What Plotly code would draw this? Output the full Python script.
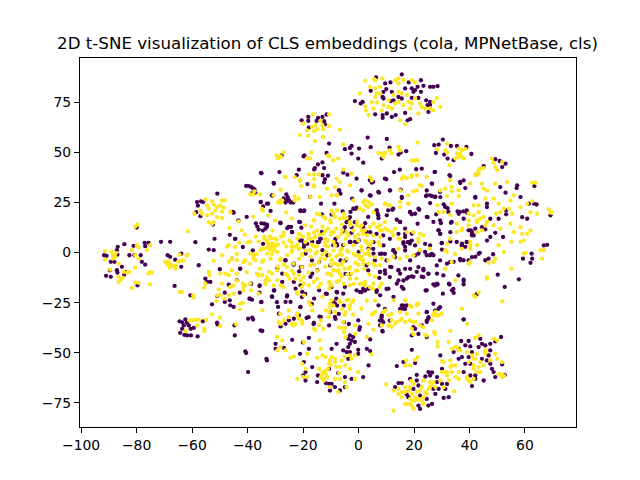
import plotly.graph_objects as go

title_text = "2D t-SNE visualization of CLS embeddings (cola, MPNetBase, cls)"
x_ticks = [-100, -80, -60, -40, -20, 0, 20, 40, 60]
y_ticks = [-75, -50, -25, 0, 25, 50, 75]
colour_dark = "#440154"
colour_light = "#fde725"

dark = [
(-20.5,66),(-18.1,67.7),(-18.1,65.7),(-14.6,67.2),(-13,67.7),(-11.5,68.9),(-12.4,65.6),(-17.9,62.4),(-15.1,65.7),(-12.1,64),
(-27.7,48.5),(-19.8,48),(-19.5,48.5),(-11.5,49.7),(-10.6,54.4),(-14.6,44),(-13,45),(-15.7,42.2),(-16,41.5),(-12.4,42.2),(-13,38.6),(-11,38.4),(-12.1,36.6),(-12.4,35),
(-21.5,41.4),(-22.3,38.6),(-28.5,40.2),(-35,39.6),(-30.5,34.4),(-18.4,34.2),(-40.5,33.3),(-39.5,33.2),(-38.7,32.8),(-38,32),(-37.5,31.5),(-37.2,30),(-38.5,29.5),
(-26,29),(-25.5,27.5),(-27,27),(-26,26),(-25,26),(-24.5,25),(-26.3,25),(-23.5,25),(-31,28.5),(-35.3,25.2),(-32.6,24.4),(-34.4,23),(-31.7,20.8),
(-50.9,29.4),(-58.2,25.2),(-56.8,25.6),(-56,25.2),(-57.9,23.4),(-58.5,20.2),(-57,18.2),(-45,19.9),(-52.5,14),
(-37,14.6),(-35,14.6),(-34,14.4),(-33,14),(-33,13),(-33.5,12),(-34.5,11),(-36,11.5),(-36.5,13),(-46.4,8.9),(-51.9,6.9),(-44.4,6.9),(-58.8,5.2),(-34.4,4.4),
(-25.7,12.2),(-24.3,12.8),(-23.9,10.2),(-21.1,15.2),(-20.6,12.4),(-20.9,20.7),(-19.7,20.7),(-28.1,14.7),(-13,10),(-13.6,6.9),(-14.6,5.2),(-21.1,6),(-19.7,5.2),(-18.5,4.4),(-9.7,19),
(-86.8,2.9),(-84.4,4.2),(-87.1,1.2),(-91.7,-1.3),(-90.8,-1.6),(-89.3,-4.6),(-88,-4.6),(-86.9,-1),(-91,-11.6),(-89.3,-12.1),(-89.6,-8.8),(-87.1,-8.8),(-86.9,-10),(-85.3,-7.1),(-84.1,-9.6),(-84.5,-11),(-79.7,-16.3),
(-81.1,3.4),(-80.8,-1.3),(-78.5,-1.3),(-76.9,3.2),(-77.1,4.9),(-75.7,4.9),(-78.1,-4.6),(-76.9,-6),(-82.6,-1.3),(-71.2,5.4),(-67.9,5.4),(-80,12.5),
(-68.8,-1.3),(-67.9,-2.1),(-66.1,-3.5),(-63.9,-7.1),(-63.9,-0.5),(-57.6,-6.3),
(-64.5,-34.3),(-62.4,-33.3),(-61.8,-35),(-63,-36.3),(-61.2,-36.3),(-63.6,-38),(-64.3,-40),(-61.8,-41.3),(-60.4,-41.3),(-59.4,-37.5),(-58,-41.8),(-56.1,-34.3),(-60.5,-38),(-62.8,-41),(-63.5,-34.8),
(-66.3,-16.6),(-60.6,-21.3),(-52.2,1.2),(-54,1.5),(-50,-8.3),(-55.2,-13),(-54.6,-14.6),(-53.4,-14.6),(-52.8,-25.8),(-51,-21.6),(-48.2,-20),(-42.8,-20),(-43.8,-13.8),(-46.8,-16),(-48.2,-24.6),(-46.4,-23.8),(-45,-27.1),(-46.2,-26.3),(-42.6,-8),(-38.7,-15.5),(-39.2,-23),(-38.4,-23.5),(-35,-24.6),(-35.6,-16.3),(-35.7,-20),(-45.6,-3),(-51,-35),(-50.8,-35.8),(-44.7,-36.3),(-44.6,-41.3),(-39.8,-33),(-38.3,-32.5),(-38,-33.4),(-35.3,-38.8),(-34.7,-39.1),(-40.8,-49.3),(-40.5,-50.1),(-33.2,-53),(-33,-53.8),(-39.8,-59.6),
(-26.3,-3.8),(-23.3,-5.5),(-29.3,-8),(-27.5,-10.5),(-23.3,-14.6),(-27.5,-14.6),(-31.1,-22.1),(-30.5,-18.8),(-25.7,-21.3),(-26.3,-24.6),(-24.5,-24.6),(-20.9,-27.1),(-29,-27.1),(-28.7,-30.5),(-26.3,-35.5),(-28.1,-36.8),(-25.1,-33.8),(-23.3,-33),(-21.5,-31.3),(-18.7,-32.6),(-16.1,-35.1),(-13.6,-32.1),(-10.6,-36.3),
(-29.9,-45.5),(-29.9,-48),(-26.9,-47.5),(-23.9,-43.5),(-20,-44.8),(-17.9,-42.5),(-17.9,-48),(-21.1,-50.5),(-19.7,-54.6),(-16.7,-57.1),(-19.1,-59.6),(-19.9,-61.3),(-19.1,-63.8),(-14.9,-64.6),(-11.8,-65.1),(-10.6,-65.5),(-10.6,-58),(-14.6,-61.3),
(-20.3,-7.1),(-17.3,-12.1),(-16.7,-10.5),(-14.2,-4.6),(-11.8,-20.5),(-16,-23),(-14.2,-18.8),(-19.7,2.9),(-19.1,-.5),(-16.7,5.4),(-14.2,5.4),(-11.2,-1.3),(-13,1.2),(-14.9,-8.8),(-20.9,-16.3),(-22.7,-18),(-20.3,-19.6),
(6.3,87.4),(9.6,84.4),(11.5,84.9),(15.6,88.9),(18.1,84.9),(22.5,86),(23.4,83.2),(25.8,82.7),(27,82.7),(28.5,83.1),(4.4,80.7),(9,80.2),(8.7,77.7),(12,80.2),(10,81.6),(16.8,81.9),(19.2,81.9),(20.4,81.1),(21.3,82.7),(19.8,80.2),(22.5,80.2),(14.4,77.7),(12.6,76),(11.6,75.6),(9,76.9),(-1.3,75.6),(.8,74.4),(1.5,75.2),(15.6,76.9),(19.2,77.2),(21.6,77.2),(24.4,76),(25.8,75.2),(24.9,73.6),(25.8,73.6),(25.2,70.2),(6,69),(8.7,68.6),(8.7,67.2),(10.2,69.4),(12,67.7),(13.4,68.6),(16.8,69.7),(17.7,66),(18.6,66.6),
(30.4,56.4),(27.3,53.6),(28.9,53.9),(33.3,53.2),(35.5,53.2),(38.9,52.7),(27.9,49.7),(30.9,48.9),(32.1,46.9),(40.7,49.2),(34.3,46.1),(49.3,46.6),(50.9,45.7),(53,44.4),(51.8,42.7),(45.1,43.2),(42.4,38.9),
(3.3,57.4),(10.2,56.7),(-2.5,53.2),(-3.1,52.2),(-4.9,51.6),(.2,51.9),(4.4,52.6),(11.2,52.4),(17.2,50.6),(15.2,49.9),(14.4,48.9),(-2.5,49.4),(8.4,46.9),(-.1,46.9),(1.7,44.9),(-5.5,39.9),(-4,38.9),(-.7,36.9),(4.8,34.9),(10,36.6),(12.8,40.2),(14.9,41.4),(20.8,41.6),(22.8,41.9),(27.4,40.2),(33.1,38.2),(37.9,36),(36.7,34.7),(38.5,32.2),(26.5,34.4),(11.4,31),(1.1,31),(-6.9,31),(15.2,31.4),(7.4,29.9),(4.4,28.4),(15.6,27.2),(24.6,31),(24.3,28.2),(26.5,28.2),(29.5,27.7),(27.7,27.9),(42.1,27.4),(57.2,33.6),(57,32.2),(51.1,32.7),(53,29.9),(63.4,33.2),(58.4,27.7),(61.4,24.4),(63.2,24.4),(64.2,24),(30.7,24.1),(25.8,24.7),(32.1,22.2),(35.7,20.6),(37.9,20.6),(39.1,19.9),(36.1,19.4),(37.9,16.9),(46.3,24.4),(46.3,22.7),(53.2,21.1),(53.2,19.1),(59,17.7),(60.8,16.9),(69.2,18.6),(18.6,20.2),(19.2,19.1),(21.9,21.4),(24.9,17.7),(28,19.1),(21.3,14.4),(33.3,14.9),(29.7,14.7),(15,15.3),(13.8,16.4),(6.6,21.1),(6.9,19.4),(7.2,17.2),(12.2,21.4),(10.2,18.6),(-1.9,21.9),(-.7,22.4),(-5.7,20.6),(-3.1,17.7),(-1.3,15.2),(2.4,14.7),(-4.3,15.2),(-4.9,12.7),(-2.5,12.7),(-2.5,9.9),(4.2,10.2),(40.5,11.1),(40.9,9.4),(41.5,8.6),(44.5,12.7),(45.7,11.6),(47.5,16.9),(50.5,16.9),(49.3,9.9),(52.1,7.8),(47.5,7.8),(46.3,6),(39.1,5.2),(37.3,3.6),(28.9,11.1),(29.5,9.4),(33.1,10.2),(16.2,5.2),(17.7,5.2),(19.2,6),(9,3.6),(5.4,5.2),(-.7,5.2),(-3.1,5.2),(-8.5,6),(-7.9,4.4),(66.8,3.6),(68,3.9),(30,4.7),(33.1,5.6),(16.8,9.4),
(-9.1,3.7),(-5.5,3.7),(-3.1,5.4),(-1.3,5.4),(3.6,2),(5.4,-.5),(8.4,-.5),(12.6,1.2),(13.2,-.1),(16.8,2.9),(18.5,4.5),(21.6,-.5),(24.6,-1.3),(25.8,-1.3),(27,-1.3),(31.9,-5.5),(34.3,-4.6),(36.7,-3.8),(37.9,-3.8),(30.1,1.5),(38.5,2.9),(37.3,4.5),(42.1,-2.1),(43.7,-.1),(45.7,-3.8),(46.9,-3),(48.5,-.8),(62,-5.1),(62.6,-3),(62.4,-.5),(59.3,-3),(57.8,-13.3),(52.7,-17.1),(50.2,-11),(37.9,-13.5),(37.9,-15.8),(32.6,-15.5),(33.7,-18.8),(34.3,-20.1),(30.4,-20.5),
(7.8,-9.6),(9.6,-10.5),(11.4,-7.1),(14.4,-8.8),(15,-10.5),(17.4,-13),(19.8,-12.1),(21,-9.6),(23.4,-8.8),(25.2,-10.5),(28.3,-10.5),(22.8,-12),(27,-15.8),(28.3,-15.5),(24.6,-18.8),(13.8,-15.5),(15.6,-17.1),(10.8,-18),(12.6,-22.1),(7.8,-21.3),(6.6,-18.8),(2.4,-18.8),(.5,-19.6),(-.7,-18.8),(1.7,-18),(3.6,-18),(-7.9,-19.6),(-5.5,-20.5),(-4.9,-17.1),(-9.7,-17.1),(-9.1,-24.6),(-8.5,-25.5),(-10.3,-29.6),
(7.2,-26.3),(15.6,-26.3),(16.2,-28),(17.4,-26.3),(8.4,-31.3),(8.4,-33.8),(7.8,-36.3),(8.6,-39.1),(27,-25.5),(24.6,-29.6),(28.9,-28),(25.2,-33),(24.6,-34.6),(22.8,-36.3),(20.4,-38),(19.2,-41.3),(24.6,-42.1),(37.9,-33.3),(-.1,-33.8),(-8.5,-32.1),(.3,-38.5),
(-3.1,-41.3),(-1.9,-42.1),(-3.7,-43),(-2.5,-43.8),(-1.3,-44.6),(-3.1,-45.5),(-3.7,-47.1),(-.1,-48.5),(4.2,-43.3),(3,-48),(4.2,-49.1),(-5.5,-48.8),(-4.3,-49.6),(-3.1,-49.6),(-7.9,-45.5),(-9.7,-48),(-.1,-50.5),(-3.7,-53),(1.7,-62.1),(-2.5,-63),(-4.9,-62.1),(-7.3,-60),(-9.7,-65.5),(-8.5,-67.1),(-10.3,-68.8),(-6.7,-68.8),(-4.9,-67.1),(3.6,-56.3),
(19.2,-48.5),(16.2,-54.6),(13.8,-56.6),(20.4,-55.1),(29.5,-51.3),(37,-44.1),(39.7,-44.1),(38.5,-46.3),(36.1,-48),(40.3,-46.8),(40.9,-49.6),(43.9,-43),(44.5,-45.5),(45.7,-46.3),(43.3,-47.1),(47.5,-48.8),(46.9,-51.3),(44.5,-53),(46.3,-53.8),(39.7,-52.1),(37.3,-52.1),(36.1,-53),(38.5,-55.5),(40.3,-55.5),(37.9,-59.6),(40.3,-61.3),(42.1,-61.3),(42.1,-63),(40.9,-66.6),(45.1,-63.8),(48.1,-58),(48.7,-59.6),(51.8,-55.8),(52.7,-61),(49.3,-62.1),(47.5,-55.5),(51.4,-42.1),(49.3,-44.3),(47.5,-45.5),(34.3,-49.6),
(14.4,-65.1),(15.6,-65.1),(13.2,-67.1),(21,-61),(18.6,-63),(19.8,-68),(21.6,-66.3),(25.2,-59.6),(25.8,-61.3),(28.3,-62.1),(24.1,-61.8),(26.5,-59.8),(30.1,-58),(30.1,-65.5),(31.9,-65.5),(28.3,-64.6),(27,-68),(31.3,-68),(28.9,-68),(17.4,-70.8),(18,-72.1),(22.2,-71.3),(21.6,-76.3),(22.2,-78),(25.2,-76.3),(26.5,-75.5),(27.7,-70.5),(30.7,-72.5),(32.5,-72.1),(24.6,-73),(21,-63.8),
]

dark_centre = [
(-35.2,25.3),(-33,24.4),(-31.2,28.6),(-30.6,34.8),(-35.2,39.8),(-40.3,17.8),(-43.3,16.1),(-45.3,20.3),(-44.5,6.9),(-41.7,2.8),(-42.7,-8.1),(-38.1,1.1),(-38.8,-15.6),(-35.7,-16.7),(-39.3,-23),(-35.1,-24.7),(-31.2,-21.9),(-30.4,-18.9),(-25.8,-21.9),(-29.4,-24.7),(-20.4,-22.2),(-19.2,-20.6),(-16.8,-25.6),(-21,-27.2),(-14.1,-31.9),(-18,-32.2),(-16.2,-35.6),(-10.2,-29.7),(-7.7,-26.4),(-7.1,-30.6),(-3.5,-35.6),(-5.3,-34.7),(-8.3,-33.1),(-23.4,-5.6),(-26.4,-3.9),(-23.4,-6.1),(-21.4,-9.4),(-20.8,-7.2),(-16.8,-3.9),(-13.2,10.3),(-14.4,5.3),(-13.8,7),(-20.4,6.1),(-19.6,4.4),(-24,10.3),(-25.2,12.8),(-28.2,14.9),(-21.4,15.3),(-21,21.1),(-19.6,21.1),(-17.4,27.8),(-13.5,24.4),(-8.7,24.4),(-13.2,19.1),(-7.1,31.1),(-6.5,29.4),(-2.3,26.9),(-1.1,21.9),(-2.9,20.3),(-3.5,16.1),(-5.3,10.8),(-8.3,6.9),(-7.7,3.6),(-2.9,5.3),(.1,6.1),(.1,.3),(-4.7,-3.9),(-2.9,-10.6),(-4.7,-10.6),(-10.2,-6.4),(-6.5,-3.9),(-11.4,-20.6),(-7.7,-19.9),(-8,-23),(-5.3,-26.4),
(6.5,21.1),(7.1,18.6),(3.5,17.8),(1.7,12.8),(2.9,10.3),(6.5,9.4),(8.9,8.6),(11.3,6.9),(14.4,9.4),(16.8,7.8),(19.2,9.4),(18,5.3),(16.2,4.4),(20.4,3.6),(22.2,1.1),(24,4.4),(25.8,3.6),(26.4,-.6),(24,.3),(20.4,-1.4),(18.6,-3.9),(16.8,1.1),(12.5,1.1),(13.2,-2.2),(9.5,-.6),(7.7,-.6),(5.3,1.9),(5.9,-3.9),(10.1,-3.9),(11.9,-7.2),(14.4,-8.9),(16.8,-8.1),(18.6,-8.1),(21.6,-7.2),(23.4,-8.1),(25.2,-10.6),(28.2,-6.4),(29.4,-3.9),(18,-12.2),(19.2,-11.9),(16.2,-13.9),(14.4,-13.9),(11.3,-12.2),(7.7,-9.7),(9.5,-8.9),(3.5,-8.9),(2.9,-6.4),(7.5,-12.6),(2.3,-18.9),(1.1,-19.7),(6.5,-19.7),(10.1,-18.1),(16.2,-18.1),(23.4,-12.2),(27.6,-16.4),(28.5,-15.9),(30.6,-11.4),(32.8,-15.9),(24.2,-18.9),(34.2,-18.1),(36,-11.4),(37.9,-14.2),(30,4.8),(35.4,5.3),(37.2,3.6),(39,5.3),(33,-4.7),(36.6,-3.1),(39.7,-3.9),(40.9,-2.2),(43.3,-.6),(42.1,11.9),(40.9,10.3),(39.7,11.1),(40.9,8.6),(36.6,20.3),(39,21.1),(28.8,11.1),(29.4,9.4),(24.6,17.8),(27,15.3),(33.6,15.3),(29.4,16.1),(18.6,20.3),(20.4,19.4),(21.6,21.9),(12.5,21.9),(10.7,21.1),(15,15.3),(16.8,11.9),(4.1,28.6),(7.1,30.3),(11.3,31.1),(15.6,27.8),(24.6,28.6),(25.8,28.6),(27.6,27.8),(29.4,30.3),(31.2,22.8),(32.4,20.3),(42.1,27.8),(32.8,38.6),(27.6,40.3),(36.6,35.3),(26.4,34.4),(9.5,36.9),(5.3,35.3),(1.1,31.1),(4.1,36.1),(16.2,-26.4),(16.8,-28.1),(9.5,-28.1),(8.3,-32.2),(7.7,-33.9),(8.9,-34.7),(11.3,-33.9),(15,-28.1),(24.6,-29.7),(24.6,-33.9),(25.2,-32.2),(29.4,-27.2),(27.6,-28.9),(21.6,-40.6),(19.8,-37.2),(8.7,-39.4),(37.9,-33.4),(42.1,-21.4),(42.7,-20.6),(.5,-37.2),
]

light = [
(-16.4,68.9),(-19.9,64.4),(-18.5,61),(-21.1,58.6),(-18.1,58.2),(-16.7,62.7),(-15.5,63.6),(-14.9,61.6),(-16,60.6),(-13,63.6),(-12.7,61.6),(-10.6,63.1),(-10.6,69),(-13.7,65.7),(-15.7,55.6),(-12.8,57.7),
(-29.5,48.5),(-29,47),(-28.5,47.5),(-27,50),(-28,48),(-18.5,47),(-17.5,47),(-17,50),(-11,48.5),(-10.5,48),
(-17.9,39),(-16,39),(-14.3,39),(-16,36.6),(-16,33),(-17.3,27.7),(-14,27.7),(-26.3,37.7),(-23,37.7),(-21.2,35.7),(-20.6,33.2),(-28.1,31.4),(-39,29),(-38,29),(-37.5,30.5),(-35.5,29),
(-29,25),(-28,25),(-27.5,26),(-23,28),(-23,26),(-34.5,21),(-32.5,18.5),
(-55.2,26.6),(-52.8,25.6),(-49.2,26),(-48.2,26),(-54.6,23.6),(-54,22),(-52.2,24),(-51,22.7),(-49.8,23.6),(-48.6,22.4),(-51.6,21),(-49.2,20.5),(-57,21),(-56.4,19.4),(-59.2,19.4),(-52.8,19.4),(-54.6,18.6),(-51,17.7),(-49.2,17.2),(-46.2,20.2),(-54,15.2),(-52.8,14.4),(-52.2,15.2),(-61.5,10.6),(-43.2,15.6),(-46.5,12.2),
(-38,18),(-41,9),(-43,5),(-40,5),(-37,8),(-36,5.5),(-34,7),(-32,8),(-33,5),(-31,4.5),(-30,7),(-32.5,3),(-35,2),(-31,2),(-29,4),(-27,5),(-28,8),(-26,3),(-24,5),(-22,7),(-23,3),(-21,9),(-18,9),(-17,13),(-16,16),(-14,19),(-12,17),(-13,13),(-15,11),(-11,12),(-10,9),(-17,7),(-12,5),(-16,3),(-21,2),(-26,20),(-30,16),(-24,17),(-27,10),(-31,11),
(-91.4,.7),(-91.4,-3.5),(-89,.4),(-88.4,-1.3),(-87.7,-2.1),(-88.6,-3),(-87.4,-.1),(-86.5,-5.5),(-89.5,-8.5),(-84.7,-9.6),(-83.5,-10),(-82.6,-9.6),(-86.5,-12.1),(-85.7,-13.5),(-86.5,-14.6),(-85,-12.5),(-81.7,-17.6),(-80.5,-15),(-79.3,-15),(-80.5,-7.5),(-79.9,3.7),(-79.3,2.5),(-80.5,-1.3),(-79.3,-3),(-81.7,1.2),(-75.1,-9.6),(-74.5,-10),(-75.7,-10.5),(-75.2,-15.8),(-76.3,1.2),(-75.1,3.7),(-80.5,13),(-79.8,14),
(-69.7,-4.5),(-68.5,-4.5),(-68,-5.5),(-67,-6.5),(-66,-6.5),(-65,-4.5),(-64,-4),(-63,-4),(-62,-1.5),(-61.5,-1),(-64.5,-1),(-66,-8),(-68,-7.5),(-69,-6),
(-58.8,-33.5),(-57.6,-33.5),(-58.2,-36.3),(-55.6,-38),(-55.6,-39.1),(-62.4,-39.1),(-54.9,-33.5),(-61,-33.8),(-59.8,-33.8),(-64.5,-19.6),(-63.7,-19.6),(-59.6,-21.3),(-59.4,-22.5),
(-52.2,-4.1),(-54,-9.6),(-55.2,-15.5),(-55.6,-17.5),(-53.7,-11.3),(-49.8,-10.5),(-48,-10.5),(-46.8,-11.3),(-49.2,-15.5),(-50.4,-18.3),(-51,-21.3),(-49.8,-21.3),(-46.2,-17.1),(-43.8,-14.1),(-41.7,-15.5),(-41.4,-17.1),(-45,-20.5),(-46.8,-21.3),(-51.2,-24.1),(-48.4,-23),(-41.7,-25.1),(-42.8,-28.3),(-52.8,-30.8),(-50,-32.5),(-49.8,-36.6),(-44.1,-35.8),(-34.7,-28.8),(-39,-15.5),(-38.7,-18.8),(-36,-20.5),(-49.2,-1.3),(-46.8,-4.6),(-47.4,2.9),(-46.8,3.7),(-45.6,-3),(-43.8,-3.8),(-41.4,-4.6),(-40.8,-3.8),(-39,-.5),(-37.8,-1.3),(-37.1,-3.8),(-35.3,1.2),(-34.1,2),(-36,-11.3),(-34.7,-11.3),(-32.3,-9.6),(-36.6,-10.5),(-33.5,-13.8),
(-32.3,4.5),(-31.1,3.7),(-30.5,1.2),(-29.3,.4),(-32.9,-.5),(-31.7,-3),(-34.7,-4.6),(-28.1,-3),(-25.7,-1.3),(-23.9,1.2),(-21.5,-3),(-20.3,-1.3),(-17.3,-2.1),(-15.5,-.5),(-13.7,-3),(-11.8,.4),(-31.1,-10.5),(-29.3,-13.8),(-32.3,-13.8),(-33.5,-15.5),(-28.1,-16.3),(-25.7,-11.3),(-23.3,-10.5),(-21.5,-11.3),(-20.9,-13.8),(-19.7,-15.5),(-17.9,-16.3),(-16.1,-14.6),(-13.6,-15.5),(-11.2,-10.5),(-10.6,-14.6),(-22.1,-20.5),(-19.7,-21.3),(-17.3,-26.3),(-16.7,-28.8),(-17.9,-24.6),(-11.8,-28.8),(-10.6,-29.6),(-13,-22.1),(-10.6,-18),(-25.1,-28.8),(-22.1,-30.5),(-21.5,-33),(-26.9,-33.8),(-28.1,-35.5),(-23.3,-36.3),(-22.7,-35.5),(-20.3,-35.5),(-16.1,-38),(-14.2,-36.3),(-13.6,-33.8),
(-29.3,-42.1),(-27.5,-43.8),(-28.1,-47.1),(-29.3,-48.8),(-26.3,-48.8),(-24.5,-52.5),(-23.3,-51.8),(-19.7,-44.6),(-18.5,-50.5),(-20.3,-55.5),(-13.6,-48),(-13,-51.3),(-14.9,-52.5),(-11.8,-52.1),(-10.6,-55.5),(-14,-43.8),(-13,-59.6),(-13.6,-62.1),(-11.8,-60.5),(-11.2,-62.1),(-12.4,-63.8),(-14.2,-58),(-18.5,-62.1),(-22.1,-63),
(6,86),(2.4,85.7),(5.6,86.6),(8.6,86.9),(4.2,82.7),(6,81.9),(7.8,82.7),(6.6,79.4),(7.8,79.4),(6,77.7),(4.8,75.2),(6.6,74.9),(2.4,73),(5.4,71.9),(8.4,71),(3.6,68.6),(2.7,71),(12,71.9),(10.8,72.7),(13.2,74.4),(14.4,75.2),(16.2,73.6),(18,75.2),(12.6,78.6),(14.4,80.2),(15.6,79.4),(17.4,78.6),(13.2,86),(14.4,86.9),(16.2,86),(19.2,86),(20.4,84.9),(14.4,84.4),(22.2,74.4),(22.8,72.7),(24,71.9),(21.6,69.4),(25.8,71.9),(27,75.2),(28.2,77.2),(29.5,72.7),(27,71),(15,66),(16.8,64),(.5,79.4),(9,73.5),(10.8,76),(18.6,71.9),(20.4,76.9),(19.2,74.4),
(31.9,54.4),(28.3,51.6),(31.3,51.1),(31.9,49.9),(36.1,51.9),(37.3,51.1),(38.5,51.6),(35.5,49.4),(36.7,49.4),(36.1,47.7),(37.3,47.7),(34.9,46.9),(21.3,54.9),(37.9,47),(32.8,43.6),
(48.1,46.9),(48.7,44.9),(49.3,42.7),(50,41.1),(43.3,41.1),(43.9,41.9),(45.1,42.2),(42.7,39.4),(51.8,45.2),
(-5.5,54),(11.3,51),(14.4,52.7),(15,51),(7.2,49.7),(8.4,49.4),(9.6,49.7),(12,49.4),(9,47.7),(19.2,46),(20.4,46),(21.3,46),(-7.3,46.9),(-9.1,46),(-6.7,61.4),(-5.5,41.4),(-2.5,39.4),(-3.1,33.6),(-6.7,35.2),(-7.9,36.9),(-8.5,32.7),(-9.7,28.6),(-7.9,28.6),(-1.9,26),(1.7,25.2),(3.6,25.2),(4.8,24),(2.4,23.6),(9.6,24.4),(10.8,23.6),(5.4,20.2),(4.2,37.7),(4.8,36),(15.6,36.9),(17.4,37.2),(19.2,37.7),(21,31),(19.8,30.6),(18,28.6),(18,24.4),(15,22.7),(22.8,33.2),(21,38.6),(29.5,31),(31.3,31.9),(31.9,28.2),(33.7,30.6),(36.1,28.2),(28.5,23.6),(28.9,20.2),(33.1,18.9),(35.5,14.4),(37.3,11.9),(39.7,13.6),(41.5,23.6),(43.3,23.6),(39.7,19.4),(41.5,18.6),(43.3,20.2),(45.1,17.7),(42.7,15.2),(45.7,13.6),(42.7,10.2),(44.5,11.1),(48.7,13.6),(51.1,11.9),(56,10.2),(54.8,14.4),(58.4,12.7),(62,11.1),(60.8,9.4),(59,9.4),(59.6,6),(62,20.2),(64.4,19.4),(68.6,21.6),(69.8,19.9),(69.2,20),(46.3,31),(44.5,34.4),(45.1,31.9),(49.3,34.4),(53.6,35.2),(45.7,26.9),(50.5,24.4),(54.8,26),(56,28.6),(48.7,26.9),(51.1,20.2),(54.2,21.9),(55.4,19.4),(58.4,22.7),(62.6,34.9),(63.8,34.9),(60.8,24.4),(62.6,25.6),(49.6,19.4),(52.4,21.9),
(-9.7,21),(-9.1,19.4),(-8.5,17.7),(-6.7,16.9),(-5.5,17.2),(-4.3,17.2),(-3.1,15.2),(-.7,13.6),(1.2,13.6),(1.2,11),(1.7,9.4),(3,8.6),(6.6,12.7),(7.8,13.6),(8.4,11),(9.6,11.9),(5.4,14.4),(-4.3,10.2),(-6.1,9.4),(-7.3,7.8),(-9.7,10.2),(-8.5,3.6),(-3.7,8.6),(-1.3,7.8),(-.1,6),(2.4,6),(4.2,3.6),(7.2,5.2),(7.8,7.8),(12,10.2),(12.6,8.6),(14.4,7),(22.2,9.4),(23.4,8.6),(21.6,7),(19.8,10.2),
(-10.3,-1.3),(-9.7,-3.8),(-8.5,-5.5),(-7.3,-6.3),(-5.5,-4.6),(-4.3,-3),(-3.7,.4),(-1.9,-.5),(-.1,-1.3),(1.2,-2.1),(3.6,1.2),(3.6,3.7),(4.8,5.4),(1.7,-3.8),(3.6,-5.5),(5.4,-5.5),(7.8,-6.3),(8.4,-3),(10.8,-3.8),(12.6,-2.1),(15,-3),(17.4,-2.1),(19.8,-1.3),(22.2,1.2),(25.8,2),(31.3,1.2),(31.9,4.5),(40.3,5.4),(-3.1,-7.1),(-2.5,-10.5),(-.7,-13),(1.2,-15.5),(2.4,-14.6),(5.4,-15.5),(8.4,-15.5),(-3.1,-16.3),(-4.3,-23.8),(-6.7,-10.5),(-9.1,-8.8),(-9.7,-11.3),(-7.9,-14.6),(-10.3,-15.5),
(10,-65.8),(12.6,-68.8),(14.4,-70.5),(15.6,-72.1),(16.8,-69.6),(17.4,-75.5),(18.6,-75.5),(19.8,-73.8),(20.4,-72.1),(21,-69.6),(22.2,-68.8),(23.4,-72.1),(22.8,-73.8),(24.6,-70.5),(18.6,-67.1),(16.8,-67.1),(19,-64),(23.4,-63.8),(25.8,-64.6),(25.8,-67.1),(12.6,-78.8),(34.5,-69.3),(32.5,-63.8),(29.5,-63.8),(27,-64.6),(19.8,-78),(19.2,-76.3),
(30.7,-54.6),(30.1,-59.6),(31.9,-61.3),(33.7,-59.6),(34.9,-62.1),(36.1,-63),(33.1,-57.1),(34.9,-56.3),(33.7,-48),(35.5,-47.1),(32.5,-44.6),(36.7,-48.8),(39.7,-54.6),(41.5,-56.3),(43.3,-57.1),(45.1,-56.3),(42.7,-59.6),(39.1,-63),(40.3,-64.6),(45.7,-50.5),(50,-53),(51.8,-54.6),(50.5,-60.5),(51.8,-62.1),(48.7,-43),(50,-43.8),(43.3,-41.3),(42.1,-42.6),(39.1,-49.6),(42.7,-50.5),(41.5,-53),(28.5,-44.6),(28.5,-46.8),(27.3,-39.6),(24,-41),(33.1,-39.1),(17.2,-53.8),(18.6,-56.3),(16.8,-56.3),(21.3,-52.1),(20.4,-53.5),(30.1,-54.1),(41.5,-21.3),(43.3,-20),(42.1,-22.1),(51.8,-24.3),(37.3,-28),(39.1,-35.5),(46.3,-13),(55.1,-8),(52.4,.4),(46.9,-5.1),(49.3,-3),(48.7,-4.6),(39.7,-5.5),(40.3,-4.6),(31.3,-8),(34.9,-13.8),(66.2,-3),(65.6,1.2),(66.8,1.2),(59.6,-.5),(60.2,-.1),(55.1,5.4),(58.4,5.4),(50.5,3.7),(42.7,3.7),(40.3,3.7),
(4.8,-30.8),(6,-29.6),(9.6,-28.8),(10.8,-31.3),(12,-33.8),(13.2,-35.5),(15,-33.8),(16.8,-34.6),(18.6,-33.8),(19.8,-34.6),(21.6,-30.5),(21,-26.3),(21.6,-25.5),(19.2,-27.1),(16.8,-23.8),(10.8,-36.3),(12,-37.1),(19.2,-38),(19.8,-40.5),(22.2,-36.3),(27,-31.3),(27.7,-29.6),(28.9,-31.3),(30,-30.5),(26.5,-33.8),(5.4,-38.5),(3.6,-35.5),(8.4,-36.3),(12.6,-23.8),
(-6.1,-37.5),(-4.9,-37.5),(-5.2,-39.6),(-1.3,-36.3),(-5.5,-34.6),(-3.1,-28),(-3.1,-26.3),(-9.1,-26.3),(-8.5,-29.6),(-10.3,-25.5),(-9.7,-23.8),(-3.7,-23.5),(-1.9,-23.8),(3,-42.1),(4.8,-50.8),(-3.1,-51.3),(-1.3,-51.3),(-2.5,-53),(-4.9,-56.3),(-6.7,-57.1),(-8.5,-53),(-9.7,-52.1),(-10.3,-53.8),(-8.5,-54.6),(-3.1,-58),(-1.3,-63),(-.1,-59.6),(-6.7,-63),(-4.9,-64.6),(-4.3,-67.1),(-8.5,-63),(-7.3,-69.6),(-10.3,-67.1),
(-6,-12),(-3,-13),(-8,-9),(-5,-8),(-1,-9),(0,-6),(2,-8),(4,-11),(6,-12),(-7,-1),(-6,2),(-11,3),(-12,7),(-8,12),(-6,14),(-10,15),(-7,-24),(-6,-28),(-5,-31),(-2,-31),(1,-28),(3,-24),(6,-24),
]

light_centre = [
(-15,19.4),(-12.6,17.8),(-10.2,16.1),(-7.7,21.1),(-5.3,19.4),(-16.2,16.1),(-19.2,13.6),(-21.6,9.4),(-18,9.4),(-15.6,7.8),(-12.6,9.4),(-9,10.3),(-5.9,11.1),(-2.9,13.6),(-.5,15.3),(-19.2,5.3),(-21.6,1.9),(-24,.3),(-20.4,-.6),(-17.4,1.1),(-15,.3),(-12,3.6),(-9,5.3),(-4.7,6.9),(-1.7,3.6),(-12,-3.1),(-9.6,-3.9),(-6.5,1.1),(-4.1,1.1),(-1.1,-1.4),(-14.4,-4.7),(-17.4,-6.4),(-20.4,-7.2),(-23.4,-5.6),(-25.8,-7.2),(-28.2,-3.9),(-31.8,7.8),(-30.6,4.4),(-33,5.3),(-34.3,1.9),(-31.2,-.6),(-36.7,-.6),(-37.9,-3.1),(-39.1,-5.6),(-41.5,-4.7),(-34.3,-3.9),(-43.9,-.6),(-45.7,-8.9),(-43.9,-10.6),(-40.3,-9.7),(-35.5,-8.1),(-33,-12.2),(-29.4,-8.9),(-26.4,-10.6),(-22.8,-13.1),(-19.8,-12.2),(-15,-13.1),(-10.2,-10.6),(-7.1,-8.9),(-3.5,-8.1),(-.5,-8.9),(-1.7,-15.6),(-5.3,-15.6),(-9.6,-16.4),(-14.4,-17.2),(-20.4,-17.2),(-22.2,-19.7),(-27,-17.2),(-30.6,-16.4),(-33.6,-15.6),(-40.9,-16.4),(-45.1,-16.4),(-41.5,-18.9),(-2.3,-24.7),(-6.5,-24.7),(-10.2,-27.2),(-4.7,-29.7),(-10.8,-32.2),(-7.1,-37.2),(-12.6,-38),(-15.6,-38.6),(-28.2,-30.6),(-25.2,-32.2),(-22.2,-31.4),(-28.8,-34.7),(-24,-35.6),(-20.4,-33.9),(-29.4,-42.2),(-4.7,-42.2),(-1.1,-40.6),(-26.4,37.8),(-21,36.1),(-16.2,33.6),(-11.4,31.9),(-7.7,28.6),(-21.6,26.9),(-28.2,26.1),(-30.6,28.6),(-34.9,21.9),(-42.1,11.1),(-39.1,5.3),(-44.5,2.8),(-45.7,-3.1),(-42.7,-25.6),
(7.7,11.1),(1.7,21.1),(3.5,22.8),(.5,12.8),(2.3,11.1),(4.1,12.8),(7.7,13.6),(9.5,15.3),(5.3,8.6),(2.9,5.3),(1.1,1.1),(2.3,-.6),(4.1,-1.4),(5.9,-2.2),(.5,-3.1),(1.7,-5.6),(3.5,-.6),(5.9,-6.4),(7.7,3.6),(10.7,11.1),(13.2,11.9),(15,6.9),(17.4,10.3),(21.6,5.3),(14.4,1.9),(.5,-15.6),(2.3,-16.4),(4.1,-17.2),(5.3,-18.1),(7.7,-17.2),(5.3,-30.6),(8.9,-29.7),(11.9,-30.6),(15,-29.7),(15.6,-33.1),(18.6,-33.9),(20.4,-34.7),(13.7,-34.7),(11.3,-36.4),(17.4,-30.6),(21,-25.6),(18.6,-26.4),(27,-30.6),(28.2,-31.4),(23.4,-37.2),(24.6,-41.4),(27.6,-40.6),(19.8,-40.6),(16.8,-23.9),(33,6.9),(35.4,10.3),(37.2,11.1),(39.7,16.1),(42.7,16.1),(43.9,16.9),(46.3,15.3),(33,36.1),(33.6,32.8),(40.3,34.4),(43.3,39.4),(42.1,38.6),(15,31.1),(16.2,37.8),(19.2,38.6),(24.6,37.8),(22.2,33.6),(18,24.4),(15,25.3),(9.5,24.4),(11.3,23.6),(2.3,26.1),(.5,21.9),(46.3,-12.2),(31.8,.3),(34.8,-.6),(37.2,1.9),(40.3,1.9),(31.2,-8.1),(33.6,-4.7),(36,31.1),(33.6,24.4),(30.6,20.3),
]

light_clusters = [
(14.4,-68),(15.6,-69.6),(18,-68.8),(19.2,-70.5),(20.4,-73.8),(16.8,-75.5),(21.6,-73),(24,-69.6),(25.2,-68),(26.4,-65.5),(22.8,-67.1),(19.8,-65.5),(27.7,-67.1),(30.7,-67.1),(23.4,-75.5),(18.6,-73),
(34.9,-47.1),(36.1,-48.8),(41,-51.3),(42.1,-53),(43.9,-54.6),(41.5,-58),(43.9,-59.6),(41.5,-63),(39.7,-63.8),(39.1,-62.1),(36.1,-59.6),(31.9,-59.6),(30.7,-59.6),(33.7,-56.3),(33.1,-53.8),(49.3,-50.5),(51.1,-60.5),(52.4,-61.3),(47.5,-53.8),(45.7,-48.8),
(-13,-60.5),(-12,-59),(-13.5,-62.5),(-12.5,-63),(-11,-58),(-20,-62),(-19,-58),(-8,-57),(-6,-54),(-5,-52),(-10,-56),(-7,-60),
(-34,8),(-33,6),(-32,3.5),(-30,3),(-33,2.5),(-31.5,7),(-30.5,2.5),(-32,1.5),(-29.5,6.5),
(-27,8.5),(-25,6),(-24,3),(-22,4),(-20,8),(-18,7),(-16,10),(-14,9),(-12,11),(-11,6),(-15,3),(-17,4),(-19,1),(-13,-1),(-9,1),(-8,-2),(-10,-6),(-12,-7),(-15,-9),(-18,-10),(-16,-6),(-25,-13),(-27,-6),(-29,-7),(-24,-9),(-6,-6),(-4,-11),(-7,-14),(-1,-5),(1,3),(0,9),(-2,11),(-5,4),(-6,-1),
]

layers = [
    (dark, colour_dark), (dark_centre, colour_dark),
    (light, colour_light), (light_centre, colour_light), (light_clusters, colour_light),
]

fig = go.Figure()
for points, colour in layers:
    fig.add_trace(go.Scatter(
        x=[p[0] for p in points], y=[p[1] for p in points], mode="markers",
        marker=dict(size=4.3, color=colour, line=dict(width=0)), hoverinfo="skip",
    ))

axis_style = dict(
    showgrid=False, zeroline=False, showline=True, mirror=True,
    linecolor="black", linewidth=1.1, ticks="outside", ticklen=5, tickwidth=1.1,
    tickcolor="black", tickfont=dict(family="DejaVu Sans", size=13.9, color="black"),
)
fig.update_layout(
    width=632, height=472, showlegend=False,
    paper_bgcolor="white", plot_bgcolor="white",
    margin=dict(l=72, r=64, t=50, b=53, autoexpand=False),
    title=dict(text=title_text, x=319.5/632, xanchor="center", y=1-35/472, yanchor="middle",
               font=dict(family="DejaVu Sans", size=16.67, color="black")),
    xaxis=dict(range=[-100.4, 78.4], tickvals=x_ticks, ticktext=[str(v).replace("-", "\u2212") for v in x_ticks], **axis_style),
    yaxis=dict(range=[-87, 97.1], tickvals=y_ticks, ticktext=[str(v).replace("-", "\u2212") for v in y_ticks], **axis_style),
)
fig.write_html("out.html")
